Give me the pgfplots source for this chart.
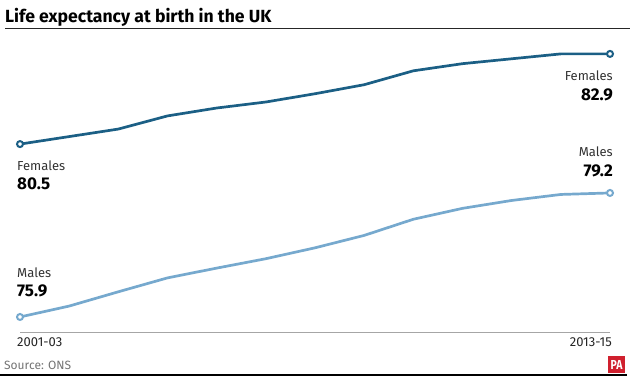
\documentclass[border=0pt]{standalone}
\usepackage{pgfplots}
\pgfplotsset{compat=1.18}
\usepackage{fontspec}
\setmainfont{Fira Sans}
\definecolor{fem}{HTML}{1B5F85}
\definecolor{mal}{HTML}{76A9CE}
\definecolor{pared}{HTML}{D0202E}
\begin{document}
\begin{tikzpicture}[x=1pt,y=1pt]
\path[use as bounding box] (0,0) rectangle (630,378);
\begin{axis}[at={(20pt,46pt)},anchor=origin,scale only axis,width=590pt,height=292pt,
  xmin=0,xmax=12,ymin=75.5,ymax=83.27,hide axis,clip=false]
\draw[gray!70,line width=0.8pt] (axis cs:0,75.5) -- (axis cs:12,75.5);
\addplot[fem,line width=2.7pt,mark=*,mark size=3pt,mark options={fill=white,line width=2pt},mark indices={1,13}]
 coordinates {(0,80.5)(1,80.7)(2,80.9)(3,81.25)(4,81.46)(5,81.62)(6,81.84)(7,82.08)(8,82.45)(9,82.64)(10,82.77)(11,82.9)(12,82.9)};
\addplot[mal,line width=2.7pt,mark=*,mark size=3pt,mark options={fill=white,line width=2pt},mark indices={1,13}]
 coordinates {(0,75.9)(1,76.19)(2,76.57)(3,76.94)(4,77.2)(5,77.45)(6,77.74)(7,78.07)(8,78.5)(9,78.79)(10,79.0)(11,79.16)(12,79.2)};
\end{axis}
\node[anchor=base west,inner sep=0,font=\fontsize{17.6}{20}\selectfont\bfseries] at (5,355) {Life expectancy at birth in the UK};
\draw[black!85,line width=1pt] (5,349.5) -- (630,349.5);
\node[anchor=base west,inner sep=0,font=\fontsize{13}{15}\selectfont,text=black!80] at (17,207) {Females};
\node[anchor=base west,inner sep=0,font=\fontsize{17}{20}\selectfont\bfseries] at (17,188) {80.5};
\node[anchor=base west,inner sep=0,font=\fontsize{13}{15}\selectfont,text=black!80] at (17,100) {Males};
\node[anchor=base west,inner sep=0,font=\fontsize{17}{20}\selectfont\bfseries] at (17,81) {75.9};
\node[anchor=base east,inner sep=0,font=\fontsize{13}{15}\selectfont,text=black!80] at (613,297) {Females};
\node[anchor=base east,inner sep=0,font=\fontsize{17}{20}\selectfont\bfseries] at (613,277) {82.9};
\node[anchor=base east,inner sep=0,font=\fontsize{13}{15}\selectfont,text=black!80] at (613,221) {Males};
\node[anchor=base east,inner sep=0,font=\fontsize{17}{20}\selectfont\bfseries] at (613,201) {79.2};
\node[anchor=base west,inner sep=0,font=\fontsize{13}{15}\selectfont,text=black!85] at (17,31) {2001-03};
\node[anchor=base east,inner sep=0,font=\fontsize{13}{15}\selectfont,text=black!85] at (612,31) {2013-15};
\node[anchor=base west,inner sep=0,font=\fontsize{12}{14}\selectfont,text=black!55] at (4,9) {Source: ONS};
\draw[black,line width=1.5pt] (0,3) -- (627,3);
\fill[pared] (608,5) rectangle (625,22);
\node[inner sep=0,font=\fontsize{13}{14}\selectfont\bfseries,text=white,xscale=0.8] at (616.5,13.5) {PA};
\end{tikzpicture}
\end{document}
